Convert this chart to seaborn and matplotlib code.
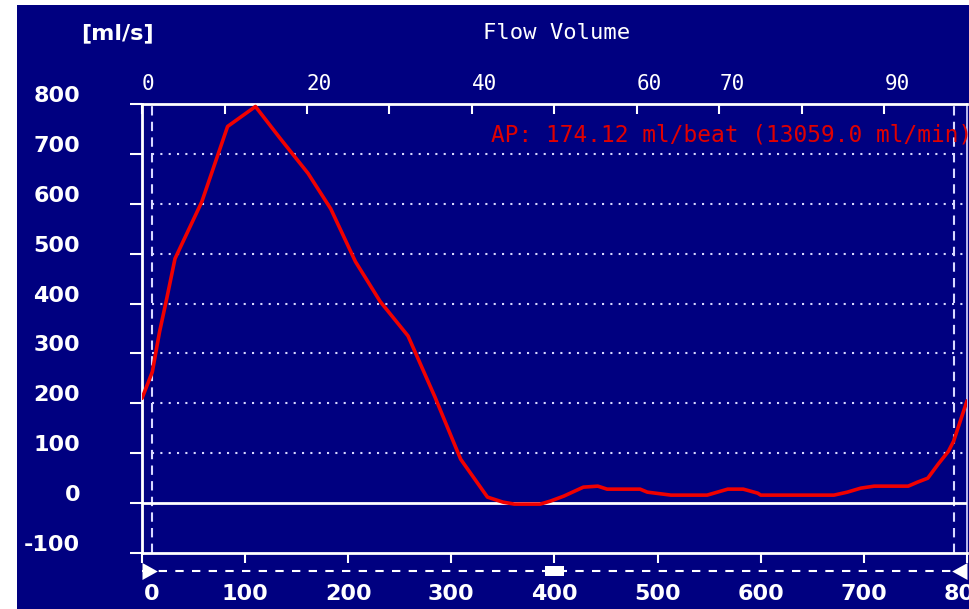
import matplotlib
matplotlib.use("Agg")
import matplotlib.pyplot as plt
from matplotlib.patches import Rectangle
from matplotlib.path import Path
from matplotlib.transforms import ScaledTranslation
import numpy as np
import pandas as pd
import seaborn as sns

# Flow curve over one beat: time [ms] vs. flow [ml/s]
time_ms = [0, 10, 17, 24, 32, 58, 83, 110, 134, 161, 183, 207, 231, 258, 284,
           309, 335, 350, 361, 386, 396, 409, 428, 442, 451, 483, 490, 513,
           548, 558, 568, 583, 597, 600, 671, 684, 697, 710, 743, 752, 762,
           772, 782, 787, 800]
flow_mls = [210, 263, 343, 410, 490, 604, 755, 795, 731, 661, 590, 484, 404,
            335, 213, 88, 12, 2, -2, -2, 4, 14, 32, 34, 28, 28, 22, 16, 16,
            22, 28, 28, 20, 16, 16, 22, 30, 34, 34, 42, 50, 78, 104, 124, 205]

y_ticks = [-100, 0, 100, 200, 300, 400, 500, 600, 700, 800]
grid_levels = [100, 200, 300, 400, 500, 600, 700]
x_ticks = [0, 100, 200, 300, 400, 500, 600, 700, 800]
top_ticks = [0, 10, 20, 30, 40, 50, 60, 70, 80, 90]
top_labels = ["0", "", "20", "", "40", "", "60", "70", "", "90"]

cursor_start = 10
cursor_end = 787
scroll_pos = 400
annotation = "AP: 174.12 ml/beat (13059.0 ml/min)"

NAVY = "#000080"
RED = "#f00000"
WHITE = "white"
DOT = "#d8d8ff"

sns.set_theme(style="dark")
plt.rcParams["font.family"] = ["DejaVu Sans"]

W, H, DPI = 970, 609, 100
fig = plt.figure(figsize=(W / DPI, H / DPI), dpi=DPI, facecolor="white")
fig.patches.append(Rectangle((17 / W, 0), 1 - 17 / W, 1 - 5 / H,
                             transform=fig.transFigure, facecolor=NAVY,
                             edgecolor="none", zorder=-10))

ax = fig.add_axes([142 / W, 56 / H, 825 / W, 449 / H])
ax.set_facecolor(NAVY)

df = pd.DataFrame({"time": time_ms, "flow": flow_mls})
sns.lineplot(data=df, x="time", y="flow", ax=ax, color=RED, lw=2.6, zorder=5)

ax.set_xlim(0, 800)
ax.set_ylim(-100, 800)
ax.set_xlabel("")
ax.set_ylabel("")
ax.grid(False)

# reference lines
ax.axhline(0, color=WHITE, lw=2, zorder=3)
ax.hlines(grid_levels, cursor_start, 800, colors=DOT, lw=1.5,
          linestyles=(0, (1, 3)), zorder=2)
for cx in (cursor_start, cursor_end):
    ax.axvline(cx, color=DOT, lw=1.5, ls=(0, (4.5, 3)), zorder=2)

# scroll bar below the plot area
xt = ax.get_xaxis_transform()
ax.plot([0, 800], [-0.04, -0.04], transform=xt, color=WHITE, lw=1.5,
        ls=(0, (4, 4)), clip_on=False)
left_tri = Path([(0, -1), (0, 1), (1.8, 0), (0, -1)],
                [Path.MOVETO, Path.LINETO, Path.LINETO, Path.CLOSEPOLY])
right_tri = Path([(0, -1), (0, 1), (-1.8, 0), (0, -1)],
                 [Path.MOVETO, Path.LINETO, Path.LINETO, Path.CLOSEPOLY])
ax.plot([0], [-0.04], transform=xt, marker=left_tri, ms=22, color=WHITE,
        mec="none", clip_on=False)
ax.plot([800], [-0.04], transform=xt, marker=right_tri, ms=22, color=WHITE,
        mec="none", clip_on=False)
ax.add_patch(Rectangle((scroll_pos - 9, -0.051), 18, 0.022, transform=xt,
                       facecolor=WHITE, edgecolor="none", clip_on=False))

# spines
for side in ("left", "top", "bottom"):
    ax.spines[side].set_color(WHITE)
    ax.spines[side].set_linewidth(2)
    ax.spines[side].set_visible(True)
ax.spines["right"].set_color(DOT)
ax.spines["right"].set_linewidth(1.2)
ax.spines["right"].set_visible(True)

# bottom axis
ax.set_xticks(x_ticks)
ax.set_xticklabels([str(v) for v in x_ticks])
ax.tick_params(axis="x", which="both", bottom=True, direction="out",
               length=7.2, width=1.5, colors=WHITE, pad=15, labelsize=16)
for lab in ax.get_xticklabels():
    lab.set_fontweight("bold")
first = ax.xaxis.get_major_ticks()[0].label1
first.set_transform(first.get_transform() +
                    ScaledTranslation(0.10, 0, fig.dpi_scale_trans))

# left axis
ax.set_yticks(y_ticks)
ax.set_yticklabels([str(v) for v in y_ticks])
ax.tick_params(axis="y", which="both", left=True, direction="out",
               length=8.6, width=1.5, colors=WHITE, pad=36, labelsize=16)
for t in ax.yaxis.get_major_ticks():
    t.label1.set_fontweight("bold")
    t.label1.set_transform(t.label1.get_transform() +
                           ScaledTranslation(0, 0.10, fig.dpi_scale_trans))

# top axis (percent of beat)
sec = ax.secondary_xaxis("top", functions=(lambda v: v / 8, lambda v: v * 8))
sec.set_xticks(top_ticks)
sec.set_xticklabels(top_labels, ha="left", fontfamily="DejaVu Sans Mono")
sec.tick_params(direction="in", length=7.2, width=1.5, colors=WHITE,
                pad=7, labelsize=15)
for s in sec.spines.values():
    s.set_visible(False)

ax.text(338, 737, annotation, color="#e00000", fontsize=16.4,
        fontfamily="DejaVu Sans Mono", ha="left", va="center", zorder=6)

fig.text(117 / W, 1 - 33 / H, "[ml/s]", color=WHITE, fontsize=16,
         fontweight="bold", ha="center", va="center")
fig.text(557 / W, 1 - 33 / H, "Flow Volume", color=WHITE, fontsize=16,
         fontfamily="DejaVu Sans Mono", ha="center", va="center")

fig.savefig("out.png", dpi=DPI, facecolor=fig.get_facecolor())
